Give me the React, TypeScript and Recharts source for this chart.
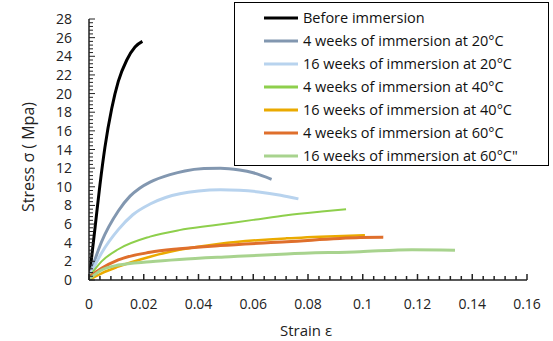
import React from "react";
import { LineChart, Line, XAxis, YAxis, Legend, Label } from "recharts";

type Pt = { e: number; s: number };

// strain (e) vs stress in MPa (s) for each condition
const beforeImmersion: Pt[] = [
  { e: 0, s: 0 }, { e: 0.0022, s: 5.6 }, { e: 0.004, s: 10.2 }, { e: 0.0058, s: 14.2 },
  { e: 0.0083, s: 18.4 }, { e: 0.0107, s: 21.3 }, { e: 0.0138, s: 23.6 },
  { e: 0.0168, s: 25.0 }, { e: 0.0195, s: 25.6 },
];
const w4At20: Pt[] = [
  { e: 0, s: 0.3 }, { e: 0.0046, s: 4.1 }, { e: 0.0107, s: 7.4 }, { e: 0.015, s: 9.0 },
  { e: 0.0185, s: 9.85 }, { e: 0.0223, s: 10.5 }, { e: 0.0296, s: 11.3 }, { e: 0.035, s: 11.7 },
  { e: 0.042, s: 11.95 }, { e: 0.048, s: 12.0 }, { e: 0.055, s: 11.8 }, { e: 0.06, s: 11.5 },
  { e: 0.0667, s: 10.8 },
];
const w16At20: Pt[] = [
  { e: 0, s: 0.3 }, { e: 0.0046, s: 2.9 }, { e: 0.0107, s: 5.4 }, { e: 0.016, s: 7.0 },
  { e: 0.0223, s: 8.15 }, { e: 0.028, s: 8.85 }, { e: 0.0332, s: 9.25 }, { e: 0.04, s: 9.55 },
  { e: 0.048, s: 9.68 }, { e: 0.055, s: 9.62 }, { e: 0.062, s: 9.45 }, { e: 0.07, s: 9.1 },
  { e: 0.0765, s: 8.7 },
];
const w4At40: Pt[] = [
  { e: 0, s: 0.3 }, { e: 0.0046, s: 2.0 }, { e: 0.0107, s: 3.3 }, { e: 0.0223, s: 4.65 },
  { e: 0.033, s: 5.35 }, { e: 0.045, s: 5.85 }, { e: 0.06, s: 6.45 },
  { e: 0.0722, s: 6.95 }, { e: 0.085, s: 7.35 }, { e: 0.0939, s: 7.6 },
];
const w16At40: Pt[] = [
  { e: 0, s: 0 }, { e: 0.0046, s: 0.72 }, { e: 0.0107, s: 1.43 }, { e: 0.0223, s: 2.5 },
  { e: 0.033, s: 3.25 }, { e: 0.0479, s: 3.9 }, { e: 0.0722, s: 4.47 },
  { e: 0.09, s: 4.7 }, { e: 0.1008, s: 4.8 },
];
const w4At60: Pt[] = [
  { e: 0, s: 0.3 }, { e: 0.0046, s: 1.25 }, { e: 0.0107, s: 2.15 }, { e: 0.0223, s: 2.97 },
  { e: 0.033, s: 3.35 }, { e: 0.0479, s: 3.7 }, { e: 0.0722, s: 4.1 },
  { e: 0.099, s: 4.55 }, { e: 0.1075, s: 4.6 },
];
const w16At60: Pt[] = [
  { e: 0, s: 0.1 }, { e: 0.0046, s: 1.07 }, { e: 0.0107, s: 1.6 }, { e: 0.0223, s: 1.96 },
  { e: 0.033, s: 2.2 }, { e: 0.0515, s: 2.5 }, { e: 0.0722, s: 2.8 },
  { e: 0.099, s: 3.04 }, { e: 0.118, s: 3.25 }, { e: 0.1337, s: 3.2 },
];

const series = [
  { name: "Before immersion", data: beforeImmersion, color: "#000000", width: 3 },
  { name: "4 weeks of immersion at 20°C", data: w4At20, color: "#8297b0", width: 3 },
  { name: "16 weeks of immersion at 20°C", data: w16At20, color: "#b8d3ee", width: 3 },
  { name: "4 weeks of immersion at 40°C", data: w4At40, color: "#8ecf4c", width: 2 },
  { name: "16 weeks of immersion at 40°C", data: w16At40, color: "#eaaa00", width: 2.5 },
  { name: "4 weeks of immersion at 60°C", data: w4At60, color: "#df6f2c", width: 3 },
  { name: "16 weeks of immersion at 60°C\"", data: w16At60, color: "#a8d38e", width: 3 },
];

const xMajor = [0, 0.02, 0.04, 0.06, 0.08, 0.1, 0.12, 0.14, 0.16];
const yMajor = [0, 2, 4, 6, 8, 10, 12, 14, 16, 18, 20, 22, 24, 26, 28];

const FONT = "'Open Sans', sans-serif";

// five minor divisions between every pair of major ticks
const withMinor = (major: number[]) => {
  const out: number[] = [];
  major.forEach((v, i) => {
    out.push(v);
    if (i < major.length - 1) {
      const step = (major[i + 1] - v) / 5;
      for (let k = 1; k < 5; k++) out.push(Math.round((v + step * k) * 1e6) / 1e6);
    }
  });
  return out;
};
const isMajor = (major: number[], v: number) => major.some((m) => Math.abs(m - v) < 1e-9);

const XTick = (props: any) => {
  const { x, y, payload } = props;
  const major = isMajor(xMajor, payload.value);
  return (
    <g>
      <line x1={x} x2={x} y1={y} y2={y - (major ? 6 : 4)} stroke="#222" strokeWidth={1.5} />
      {major && (
        <text x={x} y={y + 29} textAnchor="middle" fontFamily={FONT} fontSize={14} fill="#222">
          {String(payload.value)}
        </text>
      )}
    </g>
  );
};

const YTick = (props: any) => {
  const { x, y, payload } = props;
  const major = isMajor(yMajor, payload.value);
  return (
    <g>
      <line x1={x} x2={x + (major ? 6 : 4)} y1={y} y2={y} stroke="#222" strokeWidth={1} />
      {major && (
        <text x={x - 17} y={y + 5} textAnchor="end" fontFamily={FONT} fontSize={14} fill="#222">
          {payload.value}
        </text>
      )}
    </g>
  );
};

const order = (v: string) => series.findIndex((s) => s.name === v);

const LegendBox = (props: any) => {
  const items = [...(props.payload || [])].sort((a: any, b: any) => order(a.value) - order(b.value));
  return (
    <div
      style={{
        border: "1px solid #000",
        background: "#fff",
        width: 313,
        height: 159,
        boxSizing: "content-box",
        paddingTop: 3,
        fontFamily: FONT,
        fontSize: 14.5,
        color: "#111",
      }}
    >
      {items.map((p: any) => (
        <div key={p.value} style={{ display: "flex", alignItems: "center", height: 23 }}>
          <svg width={34} height={4} style={{ marginLeft: 29, marginRight: 5 }}>
            <line x1={0} x2={34} y1={2} y2={2} stroke={p.color} strokeWidth={3} />
          </svg>
          <span style={{ whiteSpace: "nowrap" }}>{p.value}</span>
        </div>
      ))}
    </div>
  );
};

export default function App() {
  return (
    <div style={{ position: "absolute", left: 0, top: 0, background: "#fff" }}>
      <LineChart width={553} height={341} margin={{ top: 19, right: 26, bottom: 0, left: 29 }}>
        <XAxis
          dataKey="e"
          type="number"
          domain={[0, 0.16]}
          ticks={withMinor(xMajor)}
          interval={0}
          tick={<XTick />}
          tickLine={false}
          tickSize={0}
          tickMargin={0}
          axisLine={{ stroke: "#222", strokeWidth: 1.5 }}
          height={61}
          allowDataOverflow
        >
          <Label
            content={() => (
              <text x={280} y={336} style={{ textAnchor: "start" }} fontFamily={FONT} fontSize={15} fill="#222">
                Strain ε
              </text>
            )}
          />
        </XAxis>
        <YAxis
          type="number"
          domain={[0, 28]}
          ticks={withMinor(yMajor)}
          interval={0}
          tick={<YTick />}
          tickLine={false}
          tickSize={0}
          tickMargin={0}
          axisLine={{ stroke: "#222", strokeWidth: 1.5 }}
          width={60}
          allowDataOverflow
        >
          <Label
            content={() => (
              <text
                x={34}
                y={212}
                transform="rotate(-90 34 212)"
                style={{ textAnchor: "start" }}
                fontFamily={FONT}
                fontSize={16}
                fill="#222"
              >
                Stress σ ( Mpa)
              </text>
            )}
          />
        </YAxis>
        <Legend
          layout="vertical"
          align="center"
          verticalAlign="middle"
          content={<LegendBox />}
          wrapperStyle={{ left: 234, top: 2, width: 315 }}
        />
        {series.map((sr) => (
          <Line
            key={sr.name}
            name={sr.name}
            data={sr.data}
            dataKey="s"
            type="monotone"
            stroke={sr.color}
            strokeWidth={sr.width}
            dot={false}
            activeDot={false}
            isAnimationActive={false}
          />
        ))}
      </LineChart>
    </div>
  );
}
